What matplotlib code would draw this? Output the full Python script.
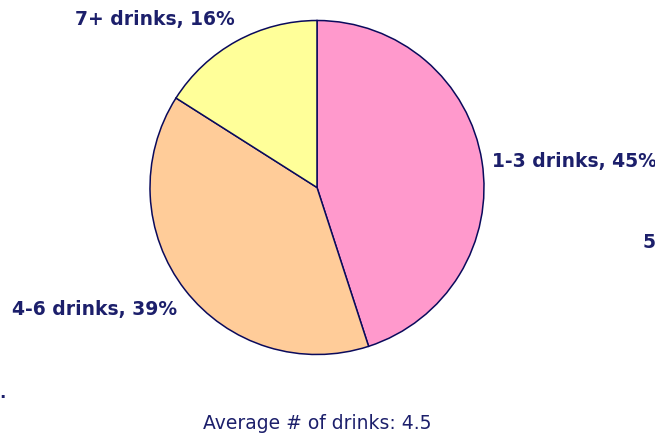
import matplotlib.pyplot as plt

# drinks per occasion
labels = ['1-3 drinks', '4-6 drinks', '7+ drinks']
shares = [45, 39, 16]
colors = ['#FF99CC', '#FFCC99', '#FFFF99']
avg_drinks = 4.5

navy = '#1C1F6B'

fig = plt.figure(figsize=(6.55, 4.39), dpi=100)
ax = fig.add_axes([0, 0, 1, 1])

ax.pie(shares, colors=colors, startangle=90, counterclock=False,
       center=(317, 250.5), radius=167, frame=True,
       wedgeprops=dict(edgecolor='#0A0A5C', linewidth=1.1))
ax.set_xlim(0, 655)
ax.set_ylim(0, 439)
ax.set_aspect('equal')
ax.axis('off')

lab_pos = [(492, 277), (12, 129), (75, 420)]
for (x, y), lab, s in zip(lab_pos, labels, shares):
    ax.text(x, y, f'{lab}, {s}%', ha='left', va='center', fontsize=13.5,
            fontweight='bold', color=navy)

ax.text(317, 15, f'Average # of drinks: {avg_drinks}', ha='center',
        va='center', fontsize=13.5, color=navy)
ax.text(643, 196, '5', ha='left', va='center', fontsize=13.5,
        fontweight='bold', color=navy)
ax.text(-1, 46, '.', ha='left', va='center', fontsize=12,
        fontweight='bold', color=navy)

fig.savefig('out.png', dpi=100, facecolor='white')
